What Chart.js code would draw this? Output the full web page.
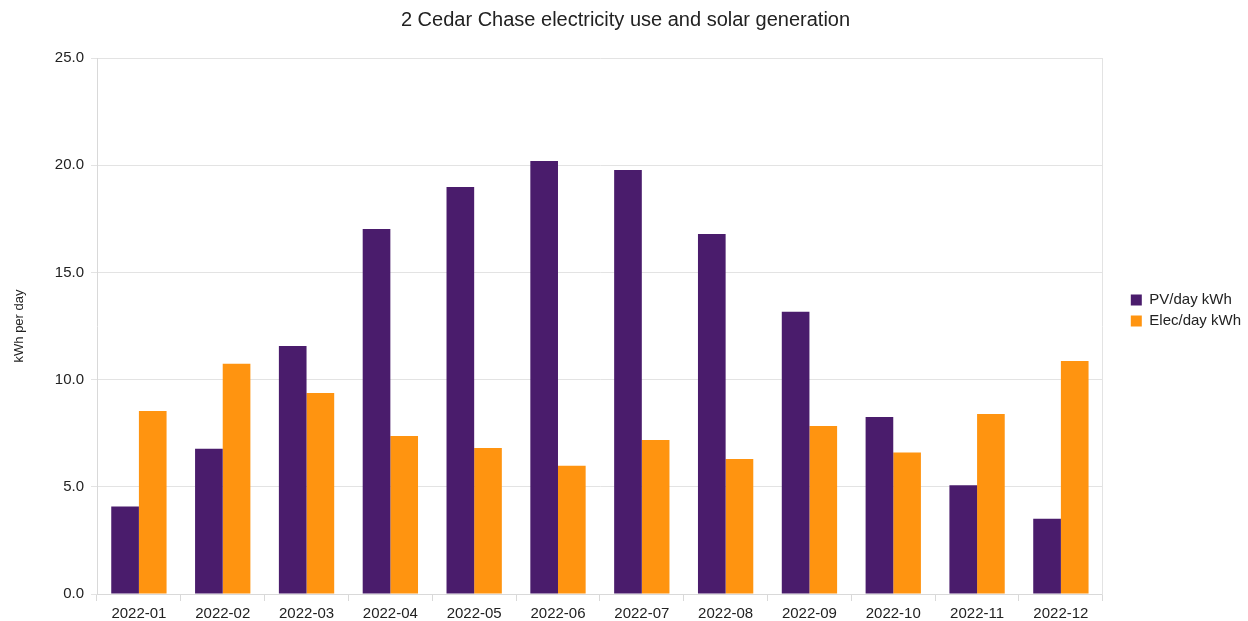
<!DOCTYPE html>
<html>
<head>
<meta charset="utf-8">
<script src="https://cdn.jsdelivr.net/npm/chart.js@4"></script>
<style>
  html, body { margin: 0; padding: 0; background: #fff; }
  #wrap { width: 1248px; height: 621px; }
</style>
</head>
<body>
<div id="wrap"><canvas id="myChart" width="1248" height="621"></canvas></div>
<script>
// months on the x axis
const months = ['2022-01', '2022-02', '2022-03', '2022-04', '2022-05', '2022-06',
                '2022-07', '2022-08', '2022-09', '2022-10', '2022-11', '2022-12'];
// kWh per day
const pvPerDay = [4.08, 6.78, 11.57, 17.03, 18.98, 20.2, 19.78, 16.79, 13.17, 8.26, 5.07, 3.51];
const elecPerDay = [8.54, 10.74, 9.38, 7.37, 6.81, 5.98, 7.18, 6.3, 7.84, 6.6, 8.4, 10.87];
const yTicks = [0, 5, 10, 15, 20, 25];

window.onload = function () {
    setGraph();
};

function setGraph () {
    const ctx = document.getElementById('myChart');
    new Chart(ctx, {
        type: 'bar',
        data: {
            labels: months,
            datasets: [{
                label: 'PV/day kWh',
                data: pvPerDay,
                backgroundColor: '#4a1c6c',
                yAxisID: 'y'
            }, {
                label: 'Elec/day kWh',
                data: elecPerDay,
                backgroundColor: '#ff9410',
                yAxisID: 'y'
            }]
        },
        options: {
            responsive: false,
            animation: false,
            devicePixelRatio: 1,
            layout: { padding: { left: 0, top: 0, bottom: 0, right: -3 } },
            datasets: {
                bar: { categoryPercentage: 0.66, barPercentage: 1.0 }
            },
            plugins: {
                title: {
                    display: true,
                    text: '2 Cedar Chase electricity use and solar generation',
                    color: '#222',
                    font: { family: 'Liberation Sans', size: 20, weight: 'normal' },
                    padding: { top: 8, bottom: 26 }
                },
                legend: {
                    position: 'right',
                    align: 'center',
                    labels: {
                        color: '#222',
                        boxWidth: 11,
                        boxHeight: 11,
                        padding: 6,
                        font: { family: 'Liberation Sans', size: 15 }
                    }
                },
                tooltip: { enabled: false }
            },
            scales: {
                x: {
                    afterFit: function (axis) { axis.height = 27; },
                    grid: {
                        offset: true,
                        drawOnChartArea: false,
                        drawTicks: true,
                        tickLength: 7,
                        color: '#d9d9d9'
                    },
                    border: { color: '#d9d9d9' },
                    ticks: {
                        color: '#222',
                        padding: 4,
                        font: { family: 'Liberation Sans', size: 15 }
                    }
                },
                y: {
                    min: 0,
                    max: 25,
                    afterBuildTicks: function (axis) {
                        axis.ticks = yTicks.map(v => ({ value: v }));
                    },
                    afterFit: function (axis) { axis.width = 97; },
                    grid: { color: '#e3e3e3', tickLength: 6 },
                    border: { color: '#d9d9d9' },
                    ticks: {
                        color: '#222',
                        padding: 7,
                        font: { family: 'Liberation Sans', size: 15 },
                        callback: v => v.toFixed(1)
                    },
                    title: {
                        display: true,
                        text: 'kWh per day',
                        color: '#222',
                        padding: { top: 12, bottom: 0 },
                        font: { family: 'Liberation Sans', size: 13 }
                    }
                },
                y2: {
                    position: 'right',
                    min: 0,
                    max: 25,
                    afterFit: function (axis) { axis.width = 22; },
                    grid: { drawOnChartArea: false, drawTicks: false },
                    border: { color: '#e3e3e3' },
                    ticks: { display: false }
                }
            }
        }
    });
}
</script>
</body>
</html>
